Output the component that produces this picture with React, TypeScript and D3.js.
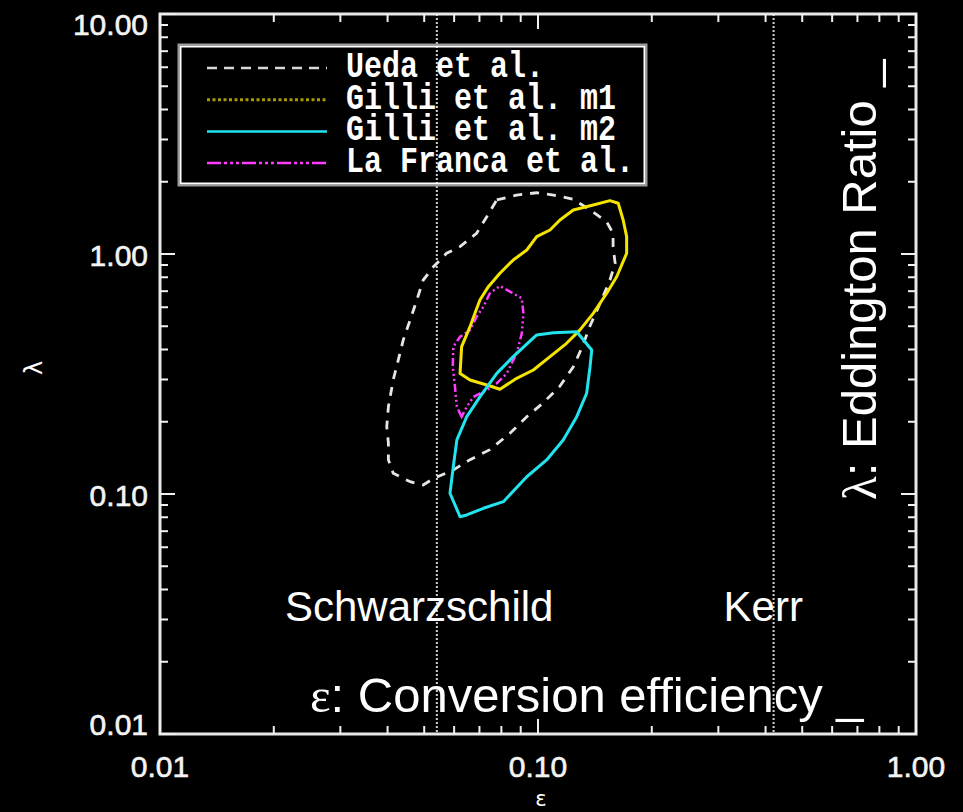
import * as d3 from 'd3';
import React, { useEffect, useRef } from 'react';

// contours (epsilon, lambda)
const uedaEps = [0.0778, 0.0878, 0.0992, 0.110, 0.124, 0.137, 0.152, 0.158, 0.158, 0.160, 0.155, 0.146, 0.137, 0.131, 0.124, 0.114, 0.103, 0.0934, 0.0843, 0.0746, 0.0661, 0.0597, 0.0529, 0.0497, 0.0459, 0.0414, 0.0402, 0.0402, 0.0398, 0.0402, 0.0414, 0.0427, 0.0440, 0.0459, 0.0478, 0.0497, 0.0529, 0.0573, 0.0622, 0.0688, 0.0732];
const uedaLam = [1.68, 1.76, 1.80, 1.76, 1.69, 1.53, 1.36, 1.22, 1.07, 0.915, 0.779, 0.623, 0.498, 0.411, 0.339, 0.280, 0.239, 0.210, 0.179, 0.153, 0.139, 0.126, 0.116, 0.109, 0.1125, 0.122, 0.139, 0.163, 0.191, 0.231, 0.299, 0.362, 0.438, 0.531, 0.643, 0.779, 0.885, 1.007, 1.073, 1.22, 1.43];

const gilli1Eps = [0.0622, 0.0628, 0.0661, 0.0681, 0.0702, 0.0739, 0.0793, 0.0860, 0.0934, 0.0992, 0.1076, 0.1143, 0.124, 0.140, 0.155, 0.163, 0.168, 0.1716, 0.1716, 0.1615, 0.152, 0.140, 0.129, 0.119, 0.1076, 0.0972, 0.0878, 0.0793, 0.0732, 0.0661];
const gilli1Lam = [0.318, 0.411, 0.498, 0.566, 0.643, 0.731, 0.831, 0.944, 1.039, 1.181, 1.259, 1.386, 1.526, 1.600, 1.668, 1.627, 1.386, 1.181, 1.007, 0.804, 0.686, 0.566, 0.482, 0.4245, 0.3735, 0.3286, 0.3035, 0.2731, 0.2846, 0.2985];

const gilli2Eps = [0.0622, 0.0585, 0.0597, 0.0610, 0.0648, 0.0702, 0.0778, 0.0860, 0.0992, 0.1098, 0.1266, 0.1387, 0.1373, 0.1345, 0.1266, 0.1166, 0.1054, 0.0934, 0.0810, 0.0717, 0.0648];
const gilli2Lam = [0.0804, 0.1007, 0.130, 0.168, 0.210, 0.254, 0.318, 0.3735, 0.460, 0.470, 0.4745, 0.398, 0.339, 0.263, 0.210, 0.168, 0.1386, 0.118, 0.0929, 0.0872, 0.0818];

const francaEps = [0.0628, 0.0610, 0.0603, 0.0595, 0.0597, 0.0622, 0.0661, 0.0688, 0.0717, 0.0746, 0.0793, 0.0843, 0.0906, 0.0915, 0.0906, 0.0878, 0.0827, 0.0778, 0.0732, 0.0675, 0.0648];
const francaLam = [0.210, 0.231, 0.280, 0.339, 0.411, 0.452, 0.482, 0.548, 0.603, 0.686, 0.736, 0.697, 0.654, 0.566, 0.467, 0.386, 0.318, 0.289, 0.271, 0.254, 0.231];

const xMajor = [0.01, 0.1, 1];
const xLabels = ['0.01', '0.10', '1.00'];
const yMajor = [0.01, 0.1, 1, 10];
const yLabels = ['0.01', '0.10', '1.00', '10.00'];

const schwarzschildEps = 0.054;
const kerrEps = 0.42;

const legendNames = ['Ueda et al.', 'Gilli et al. m1', 'Gilli et al. m2', 'La Franca et al.'];

function App() {
    const ref = useRef<HTMLDivElement>(null);

    useEffect(() => {
        draw();
    });

    const draw = () => {
        const width = 963;
        const height = 812;
        const left = 160, right = 916, top = 14, bottom = 734;

        const x = d3.scaleLog().domain([0.01, 1]).range([left, right]);
        const y = d3.scaleLog().domain([0.01, 10]).range([bottom, top]);

        d3.select(ref.current).selectAll('svg').remove();

        const svg = d3.select(ref.current)
            .append('svg')
            .attr('width', width)
            .attr('height', height)
            .style('display', 'block')
            .style('background', '#000');

        // vertical reference lines
        [schwarzschildEps, kerrEps].forEach(v => {
            svg.append('line')
                .attr('x1', x(v)).attr('x2', x(v))
                .attr('y1', top).attr('y2', bottom)
                .attr('stroke', '#d0d0d0')
                .attr('stroke-width', 2)
                .attr('stroke-dasharray', '2,2');
        });

        // contours
        const contour = (eps: number[], lam: number[]) =>
            d3.line<number>()
                .x(i => x(eps[i]))
                .y(i => y(lam[i]))
                .curve(d3.curveLinearClosed)(d3.range(eps.length));

        svg.append('path')
            .attr('d', contour(uedaEps, uedaLam))
            .attr('fill', 'none')
            .attr('stroke', '#e6e6e6')
            .attr('stroke-width', 2.8)
            .attr('stroke-dasharray', '9,8');

        svg.append('path')
            .attr('d', contour(francaEps, francaLam))
            .attr('fill', 'none')
            .attr('stroke', '#ff3cff')
            .attr('stroke-width', 2.5)
            .attr('stroke-dasharray', '8,3,2,3,2,3,2,3');

        svg.append('path')
            .attr('d', contour(gilli1Eps, gilli1Lam))
            .attr('fill', 'none')
            .attr('stroke', '#f5e400')
            .attr('stroke-width', 3)
            .attr('stroke-linejoin', 'round');

        svg.append('path')
            .attr('d', contour(gilli2Eps, gilli2Lam))
            .attr('fill', 'none')
            .attr('stroke', '#22e4ee')
            .attr('stroke-width', 3)
            .attr('stroke-linejoin', 'round');

        // frame
        svg.append('rect')
            .attr('x', left).attr('y', top)
            .attr('width', right - left).attr('height', bottom - top)
            .attr('fill', 'none')
            .attr('stroke', '#e8e8e8')
            .attr('stroke-width', 3);

        // ticks on all four sides
        const isMajor = (v: number) => Math.abs(Math.log10(v) - Math.round(Math.log10(v))) < 1e-6;
        const ticks = svg.append('g').attr('stroke', '#f0f0f0').attr('stroke-width', 2);
        x.ticks().forEach(v => {
            const len = isMajor(v) ? 15 : 8;
            ticks.append('line').attr('x1', x(v)).attr('x2', x(v)).attr('y1', bottom).attr('y2', bottom - len);
            ticks.append('line').attr('x1', x(v)).attr('x2', x(v)).attr('y1', top).attr('y2', top + len);
        });
        y.ticks().forEach(v => {
            const len = isMajor(v) ? 15 : 8;
            ticks.append('line').attr('x1', left).attr('x2', left + len).attr('y1', y(v)).attr('y2', y(v));
            ticks.append('line').attr('x1', right).attr('x2', right - len).attr('y1', y(v)).attr('y2', y(v));
        });

        // tick labels
        const labelFont = 'Liberation Sans, Arial, sans-serif';
        xMajor.forEach((v, i) => {
            svg.append('text')
                .attr('x', x(v)).attr('y', 777)
                .attr('text-anchor', 'middle')
                .attr('font-family', labelFont)
                .attr('font-size', 30)
                .attr('stroke', '#f4f4f4')
                .attr('stroke-width', 0.6)
                .attr('fill', '#f4f4f4')
                .text(xLabels[i]);
        });
        yMajor.forEach((v, i) => {
            let by = y(v) + 12;
            if (by > bottom + 1) by = bottom + 1;
            if (by < top + 21) by = top + 21;
            svg.append('text')
                .attr('x', 148).attr('y', by)
                .attr('text-anchor', 'end')
                .attr('font-family', labelFont)
                .attr('font-size', 30)
                .attr('stroke', '#f4f4f4')
                .attr('stroke-width', 0.6)
                .attr('fill', '#f4f4f4')
                .text(yLabels[i]);
        });

        // axis titles
        svg.append('text')
            .attr('x', 541).attr('y', 806)
            .attr('text-anchor', 'middle')
            .attr('font-family', 'DejaVu Sans, sans-serif')
            .attr('font-size', 21)
            .attr('fill', '#fff')
            .text('ε');
        svg.append('text')
            .attr('transform', 'translate(42,368) rotate(-90)')
            .attr('text-anchor', 'middle')
            .attr('font-family', 'DejaVu Sans, sans-serif')
            .attr('font-size', 24)
            .attr('fill', '#fff')
            .text('λ');

        // legend
        const legend = svg.append('g');
        legend.append('rect')
            .attr('x', 178.5).attr('y', 44.5).attr('width', 468).attr('height', 141)
            .attr('fill', 'none').attr('stroke', '#9a9a9a').attr('stroke-width', 2);
        legend.append('rect')
            .attr('x', 180.5).attr('y', 46.5).attr('width', 464).attr('height', 137)
            .attr('fill', 'none').attr('stroke', '#ffffff').attr('stroke-width', 2);

        const legendStyles = [
            { stroke: '#d8d8d8', dash: '10,7', w: 2.5 },
            { stroke: '#a89a00', dash: '3,2.5', w: 3 },
            { stroke: '#22e4ee', dash: null, w: 2.5 },
            { stroke: '#ff3cff', dash: '14,3,3,3,3,3,3,3', w: 2.5 }
        ];
        legendNames.forEach((name, i) => {
            const ly = 68 + i * 31.7;
            const ln = legend.append('line')
                .attr('x1', 207).attr('x2', 327)
                .attr('y1', ly).attr('y2', ly)
                .attr('stroke', legendStyles[i].stroke)
                .attr('stroke-width', legendStyles[i].w);
            if (legendStyles[i].dash) ln.attr('stroke-dasharray', legendStyles[i].dash);
            legend.append('text')
                .attr('transform', `translate(346,${77 + i * 31.6}) scale(1,1.2)`)
                .attr('font-family', 'Liberation Mono, Courier New, monospace')
                .attr('font-weight', 'bold')
                .attr('font-size', 30)
                .attr('fill', '#fff')
                .text(name);
        });

        // annotations
        const annFont = 'Liberation Sans, Arial, sans-serif';
        svg.append('text')
            .attr('x', 285).attr('y', 621)
            .attr('font-family', annFont).attr('font-size', 42).attr('fill', '#fff')
            .text('Schwarzschild');
        svg.append('text')
            .attr('x', x(kerrEps) - 50).attr('y', 621)
            .attr('font-family', annFont).attr('font-size', 42).attr('fill', '#fff')
            .text('Kerr');

        const effLabel = svg.append('text')
            .attr('x', 310).attr('y', 712)
            .attr('font-family', annFont).attr('font-size', 49).attr('fill', '#fff');
        effLabel.append('tspan').attr('font-family', 'Liberation Serif, serif').text('ε');
        effLabel.append('tspan').text(': Conversion efficiency _');

        const lamLabel = svg.append('text')
            .attr('transform', 'translate(876,500) rotate(-90)')
            .attr('font-family', annFont).attr('font-size', 49).attr('fill', '#fff');
        lamLabel.append('tspan').attr('font-family', 'Liberation Serif, serif').text('λ');
        lamLabel.append('tspan').text(': Eddington Ratio _');
    };

    return (
        <div style={{ position: 'fixed', left: 0, top: 0, width: 963, height: 812, background: '#000' }} ref={ref}>
        </div>
    );
}

export default App;
